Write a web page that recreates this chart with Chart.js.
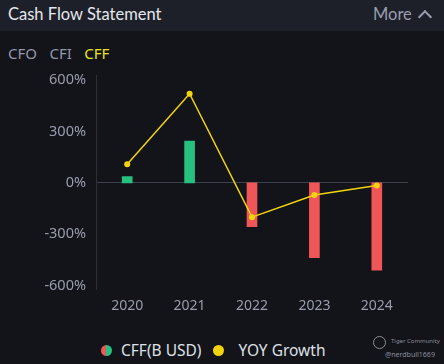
<!DOCTYPE html>
<html>
<head>
<meta charset="utf-8">
<script src="https://cdn.jsdelivr.net/npm/chart.js@4"></script>
<style>
  html, body { margin: 0; padding: 0; background: #12141a; width: 444px; height: 364px; overflow: hidden; font-family: "Noto Sans", sans-serif; }
  .header { position: absolute; left: 0; top: 0; width: 444px; height: 31px; background: #1d2029; }
  .title { position: absolute; left: 8px; top: 4px; font-family: Lato, sans-serif; font-size: 16.5px; color: #e6e7ec; }
  .more { position: absolute; left: 373px; top: 4px; font-family: Lato, sans-serif; font-size: 16.5px; color: #9a9db0; }
  .chev { position: absolute; left: 420px; top: 12px; width: 8px; height: 8px; border-left: 2px solid #9a9db0; border-top: 2px solid #9a9db0; transform: rotate(45deg); }
  .tabs { position: absolute; left: 8px; top: 43px; font-size: 15px; color: #9296aa; white-space: nowrap; }
  .tabs span { margin-right: 12.5px; }
  .tabs .active { color: #e9e324; }
  #wrap { position: absolute; left: 0; top: 57px; width: 444px; height: 257px; }
  .legend { position: absolute; top: 339px; left: 101px; font-size: 15.5px; color: #dfe0e6; display: flex; align-items: center; white-space: nowrap; }
  .legend .dot { width: 11px; height: 11px; border-radius: 50%; display: inline-block; margin-right: 9px; }
  .legend .item { display: flex; align-items: center; margin-right: 12px; }
  .legend .item + .item .dot { margin-right: 14px; }
  .wm { position: absolute; left: 373px; top: 336px; color: #8a8d99; white-space: nowrap; }
  .wm .logo { position: absolute; left: 0; top: 0; width: 11px; height: 11px; border: 1px solid #8a8d99; border-radius: 50%; }
  .wm .t1 { position: absolute; left: 18px; top: 1px; font-size: 6px; }
  .wm .t2 { position: absolute; left: 12px; top: 14px; font-size: 7px; }
</style>
</head>
<body>
<div class="header">
  <div class="title">Cash Flow Statement</div>
  <div class="more">More</div>
  <div class="chev"></div>
</div>
<div class="tabs"><span>CFO</span><span>CFI</span><span class="active">CFF</span></div>
<div id="wrap"><canvas id="chart"></canvas></div>
<div class="legend" id="legend"></div>
<div class="wm"><span class="logo"></span><span class="t1">Tiger Community</span><span class="t2">@nerdbull1669</span></div>
<script>
const years = ["2020", "2021", "2022", "2023", "2024"];
const cffValues = [0.37, 2.44, -2.55, -4.36, -5.09];   // B USD
const yoyGrowth = [108, 520, -200, -71, -15];          // %
const yTicks = [-600, -300, 0, 300, 600];

const green = "#26c07f";
const red = "#ef5657";
const yellow = "#f2d40e";

const ctx = document.getElementById("chart").getContext("2d");

const chart = new Chart(ctx, {
  data: {
    labels: years,
    datasets: [
      {
        type: "line",
        label: "YOY Growth",
        data: yoyGrowth,
        yAxisID: "y",
        borderColor: yellow,
        backgroundColor: yellow,
        borderWidth: 1.5,
        pointRadius: 3,
        pointBackgroundColor: yellow,
        pointBorderWidth: 0,
        tension: 0
      },
      {
        type: "bar",
        label: "CFF(B USD)",
        data: cffValues,
        yAxisID: "y1",
        backgroundColor: cffValues.map(v => v >= 0 ? green : red),
        barThickness: 10
      }
    ]
  },
  options: {
    responsive: true,
    maintainAspectRatio: false,
    animation: false,
    layout: { padding: { top: 4, right: 36, left: 0, bottom: 0 } },
    plugins: { legend: { display: false }, tooltip: { enabled: false } },
    scales: {
      x: {
        grid: { display: false },
        border: { display: false },
        ticks: { color: "#9a9dad", font: { size: 14, family: "Noto Sans" }, padding: 0 }
      },
      y: {
        min: -620,
        max: 625,
        afterBuildTicks: axis => { axis.ticks = yTicks.map(v => ({ value: v })); },
        afterFit: axis => { axis.width = 96; },
        grid: {
          color: c => c.tick && c.tick.value === 0 ? "#3d414c" : "transparent",
          drawTicks: false,
          lineWidth: 1
        },
        border: { display: true, color: "#2c2f38" },
        ticks: {
          color: "#9a9dad",
          font: { size: 14.5, family: "Noto Sans" },
          padding: 10,
          callback: v => v + "%"
        }
      },
      y1: {
        display: false,
        min: -6.2,
        max: 6.25
      }
    }
  }
});

// legend built from the datasets
const legend = document.getElementById("legend");
const items = [
  { label: chart.data.datasets[1].label, bg: "linear-gradient(to right, " + red + " 50%, " + green + " 50%)" },
  { label: chart.data.datasets[0].label, bg: yellow }
];
items.forEach(it => {
  const el = document.createElement("div");
  el.className = "item";
  el.innerHTML = '<span class="dot" style="background:' + it.bg + '"></span>' + it.label;
  legend.appendChild(el);
});
</script>
</body>
</html>
